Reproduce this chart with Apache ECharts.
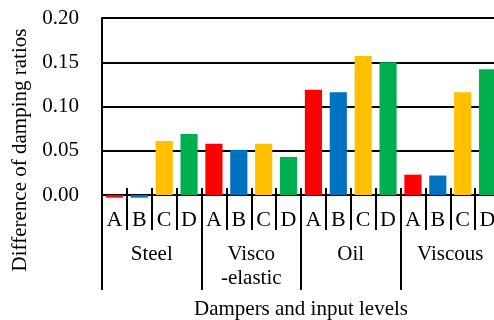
<!DOCTYPE html>
<html>
<head>
<meta charset="utf-8">
<script src="https://cdn.jsdelivr.net/npm/echarts@6/dist/echarts.min.js"></script>
<style>html,body{margin:0;padding:0;background:#fff;}#c{width:494px;height:320px;}</style>
</head>
<body>
<div id="c"></div>
<script>
const levels = ['A', 'B', 'C', 'D'];
const dampers = ['Steel', 'Visco\n-elastic', 'Oil', 'Viscous'];
const steel = [-0.003, -0.003, 0.061, 0.069];
const viscoElastic = [0.058, 0.051, 0.058, 0.043];
const oil = [0.119, 0.116, 0.157, 0.150];
const viscous = [0.023, 0.022, 0.116, 0.142];
const yMin = 0, yMax = 0.20, yStep = 0.05;

const levelColors = ['#FF0000', '#0070C0', '#FFC000', '#00B050'];
const groupValues = [steel, viscoElastic, oil, viscous];

const cats = [];
const barData = [];
dampers.forEach((d, gi) => {
  levels.forEach((l, li) => {
    cats.push(gi + '|' + l);
    barData.push({ value: groupValues[gi][li], itemStyle: { color: levelColors[li] } });
  });
});

const font = 'Liberation Serif, Times New Roman, serif';
const chart = echarts.init(document.getElementById('c'), null, { renderer: 'canvas' });
chart.setOption({
  animation: false,
  backgroundColor: '#fff',
  grid: { left: 102, top: 18, bottom: 125, right: -6, containLabel: false, outerBoundsMode: 'none' },
  xAxis: [
    {
      type: 'category', data: cats, position: 'bottom',
      axisLine: { show: true, lineStyle: { color: '#000', width: 2 } },
      axisTick: { show: true, interval: 0, length: 35, lineStyle: { color: '#000', width: 2 } },
      axisLabel: { interval: 0, margin: 14, color: '#000', fontFamily: font, fontSize: 22,
        formatter: v => v.split('|')[1] },
      splitLine: { show: false }
    },
    {
      type: 'category', data: dampers, position: 'bottom',
      axisLine: { show: false },
      axisTick: { show: true, interval: 0, length: 95, lineStyle: { color: '#000', width: 2 } },
      axisLabel: { interval: 0, margin: 47, color: '#000', fontFamily: font, fontSize: 21, lineHeight: 24 },
      name: 'Dampers and input levels', nameLocation: 'middle', nameGap: 104,
      nameTextStyle: { color: '#000', fontFamily: font, fontSize: 21 }
    },
    {
      type: 'category', data: cats, position: 'bottom',
      axisLine: { show: false },
      axisTick: { show: true, inside: true, interval: 0, length: 7, lineStyle: { color: '#000', width: 2 } },
      axisLabel: { show: false }
    }
  ],
  yAxis: {
    type: 'value', min: yMin, max: yMax, interval: yStep,
    axisLine: { show: true, lineStyle: { color: '#000', width: 2 } },
    axisTick: { show: false },
    axisLabel: { margin: 23, color: '#000', fontFamily: font, fontSize: 21, formatter: v => v.toFixed(2) },
    splitLine: { show: true, lineStyle: { color: '#000', width: 2 } },
    name: 'Difference of damping ratios', nameLocation: 'middle', nameGap: 68,
    nameTextStyle: { color: '#000', fontFamily: font, fontSize: 21, padding: [0, 87, 0, 0] }
  },
  series: [{
    type: 'bar', xAxisIndex: 0, data: barData, barCategoryGap: '31%', clip: false
  }]
});
</script>
</body>
</html>
